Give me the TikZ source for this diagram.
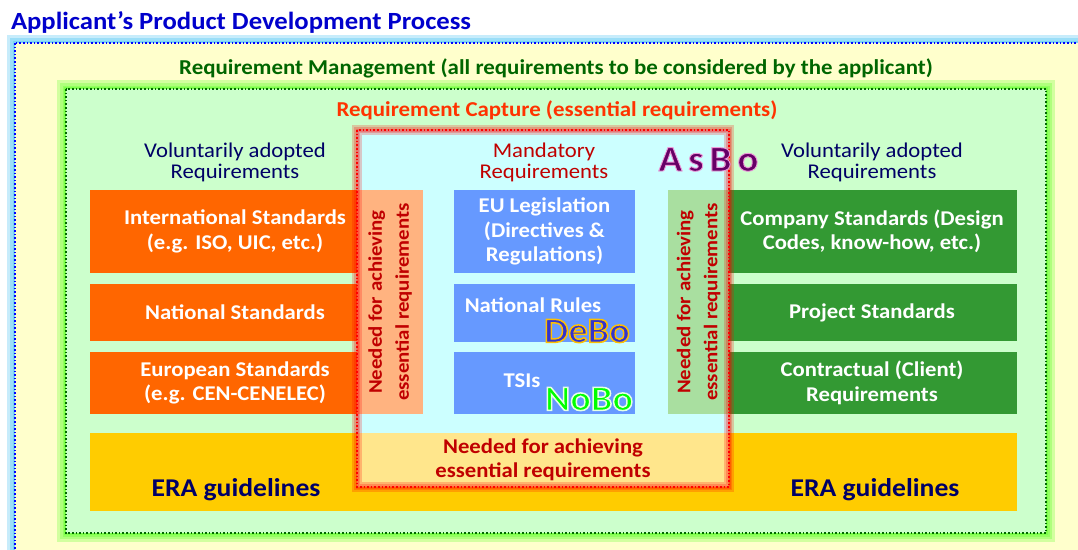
\documentclass[tikz,border=0pt]{standalone}
\usepackage{fontspec}
\setmainfont{Carlito}[FakeStretch=1.08]
\usetikzlibrary{positioning}

\definecolor{titleblue}{HTML}{0000CC}
\definecolor{applbg}{HTML}{FFFFCC}
\definecolor{mgmtgreen}{HTML}{006600}
\definecolor{mgmtbg}{HTML}{CCFFCC}
\definecolor{glowgreen}{HTML}{33FF00}
\definecolor{capred}{HTML}{FF3300}
\definecolor{capbg}{HTML}{CCFFFF}
\definecolor{navy}{HTML}{000066}
\definecolor{mandred}{HTML}{C00000}
\definecolor{intorange}{HTML}{FF6600}
\definecolor{needorange}{HTML}{FFB380}
\definecolor{eublue}{HTML}{6699FF}
\definecolor{needgreen}{HTML}{A9DFA0}
\definecolor{compgreen}{HTML}{339933}
\definecolor{erayellow}{HTML}{FFCC00}
\definecolor{needyellow}{HTML}{FFE68C}
\definecolor{asbopurple}{HTML}{660066}
\definecolor{debofill}{HTML}{3333CC}
\definecolor{nobofill}{HTML}{00FF00}

\begin{document}
\begin{tikzpicture}[x=1pt,y=-1pt,
  every node/.style={inner sep=0pt, outer sep=0pt, align=center},
  head/.style={font=\fontsize{21.2}{24}\selectfont\bfseries},
  voltext/.style={font=\fontsize{21}{21}\selectfont},
  stdbox/.style={fill=#1, text=white, font=\fontsize{21}{24.5}\selectfont\bfseries},
  needbox/.style={fill=#1, text=mandred, font=\fontsize{19.3}{27}\selectfont\bfseries},
  eratext/.style={text=navy, font=\fontsize{25.6}{28}\selectfont\bfseries},
  bolabel/.style={font=\fontsize{35.5}{40}\selectfont\bfseries},
  glow/.style={line width=#1, opacity=0.22}]
\clip (0,0) rectangle (1078,549);
\fill[white] (0,0) rectangle (1078,549);

% applicant's process
\foreach \w in {16,10,5} \draw[cyan, glow=\w] (15,43) rectangle (1110,580);
\fill[applbg] (15,43) rectangle (1110,580);
\draw[blue, dotted, line width=1.6pt] (15,43) rectangle (1110,580);
\node[anchor=west, text=titleblue, font=\fontsize{24.7}{28}\selectfont\bfseries] (title) at (11,22) {Applicant’s Product Development Process};
\node[head, text=mgmtgreen] (mgmt) at (556,68) {Requirement Management (all requirements to be considered by the applicant)};

% requirement management
\foreach \w in {18,12,7,4} \draw[glowgreen, glow=\w] (66,89) rectangle (1046,533);
\fill[mgmtbg] (66,89) rectangle (1046,533);
\draw[mgmtgreen, dotted, line width=1.6pt] (66,89) rectangle (1046,533);
\node[head, text=capred] (capture) at (557,110) {Requirement Capture (essential requirements)};

\fill[capbg] (357,130) rectangle (729,487);

\node[voltext, text=navy] (volleft) at (235,162) {Voluntarily adopted\\Requirements};
\node[voltext, text=navy] (volright) at (872,162) {Voluntarily adopted\\Requirements};
\node[voltext, text=mandred] (mand) at (544,162) {Mandatory\\Requirements};

% voluntary / mandatory boxes
\node[stdbox=intorange, minimum width=290, minimum height=83] (intl) at (235,231.5) {International Standards\\(e.g. ISO, UIC, etc.)};
\node[stdbox=intorange, minimum width=290, minimum height=57] (natstd) at (235,312.5) {National Standards};
\node[stdbox=intorange, minimum width=290, minimum height=62] (eurstd) at (235,383) {European Standards\\(e.g. CEN-CENELEC)};
\node[stdbox=compgreen, minimum width=290, minimum height=83] (comp) at (872,231.5) {Company Standards (Design\\Codes, know-how, etc.)};
\node[stdbox=compgreen, minimum width=290, minimum height=57] (proj) at (872,312.5) {Project Standards};
\node[stdbox=compgreen, minimum width=290, minimum height=62] (contr) at (872,383) {Contractual (Client)\\Requirements};
\node[stdbox=eublue, minimum width=181, minimum height=83] (eulex) at (544.5,231.5) {EU Legislation\\(Directives \&\\Regulations)};
\node[stdbox=eublue, minimum width=181, minimum height=58] (natrules) at (544.5,312.5) {};
\node[stdbox=eublue, minimum width=181, minimum height=62] (tsis) at (544.5,383) {};
\node[text=white, font=\fontsize{21}{24}\selectfont\bfseries] (natrulestext) at (533,305) {National Rules};
\node[text=white, font=\fontsize{21}{24}\selectfont\bfseries] (tsistext) at (522,381) {TSIs};

% ERA guidelines
\fill[erayellow] (90,433) rectangle (1017,511);
\node[eratext] (eraleft) at (236,490) {ERA guidelines};
\node[eratext] (eraright) at (875,490) {ERA guidelines};

% needed for achieving essential requirements
\node[needbox=needorange, rotate=90, minimum width=224, minimum height=66] (needleft) at (390,302) {Needed for achieving\\essential requirements};
\node[needbox=needgreen, rotate=90, minimum width=224, minimum height=61] (needright) at (698.5,302) {Needed for achieving\\essential requirements};
\node[needbox=needyellow, minimum width=372, minimum height=54, font=\fontsize{21}{24.5}\selectfont\bfseries] (needbottom) at (543,460) {Needed for achieving\\essential requirements};

% requirement capture frame
\foreach \w in {10,6,3} \draw[red, glow=\w] (357,130) rectangle (729,487);
\draw[red, dotted, line width=1.6pt] (357,130) rectangle (729,487);

% assessment bodies
\node[font=\fontsize{36}{40}\selectfont\bfseries] (asbo) at (708.5,159.5)
  {\color{asbopurple}\special{pdf:literal direct 0.93 0.6 0.85 RG 0.9 w 2 Tr}A\hspace{6pt}s\hspace{6pt}B\hspace{6pt}o\special{pdf:literal direct 0 Tr}};
\node[bolabel] (debo) at (587,331)
  {\color{debofill}\special{pdf:literal direct 1 0.753 0 RG 1.5 w 2 Tr}DeBo\special{pdf:literal direct 0 Tr}};
\node[bolabel] (nobo) at (589,399)
  {\color{nobofill}\special{pdf:literal direct 0.9 1 0.9 RG 1.5 w 2 Tr}NoBo\special{pdf:literal direct 0 Tr}};
\end{tikzpicture}
\end{document}
